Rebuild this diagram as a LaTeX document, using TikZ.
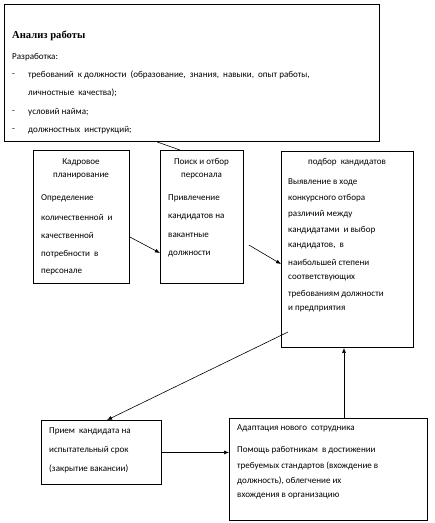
\documentclass[tikz,border=0pt]{standalone}
\usepackage{fontspec}
\setmainfont{Carlito}
\newfontfamily\titlefont{Liberation Serif}
\usetikzlibrary{arrows.meta,calc}
\begin{document}
\begin{tikzpicture}[x=1pt,y=-1pt,
  box/.style={draw,line width=0.9pt,anchor=north west,inner sep=0pt},
  txt/.style={anchor=west,inner sep=0pt,font=\fontsize{9.05}{10}\selectfont},
  ctxt/.style={anchor=center,inner sep=0pt,font=\fontsize{9.05}{10}\selectfont},
  arr/.style={line width=0.6pt,-{Latex[length=5pt,width=4pt]}},
  ln/.style={line width=0.6pt}]
\useasboundingbox (0,0) rectangle (435,523);
% top box
\node[box,minimum width=375pt,minimum height=137.5pt] (anal) at (4,3.5) {};
\node[anchor=west,inner sep=0pt,font=\titlefont\bfseries\fontsize{10.6}{12}\selectfont] (anal1) at (12,36) {Анализ работы};
\node[txt] (anal2) at (12,57) {Разработка:};
\node[txt] (d1) at (12,75) {-};
\node[txt] (anal3) at (28,75) {требований\ \ к должности\ \ (образование,\ \ знания,\ \ навыки,\ \ опыт работы,};
\node[txt] (anal4) at (28,93) {личностные\ \ качества);};
\node[txt] (d2) at (12,112) {-};
\node[txt] (anal5) at (28,112) {условий найма;};
\node[txt] (d3) at (12,130) {-};
\node[txt] (anal6) at (28,130) {должностных\ \ инструкций;};
% Kadrovoe
\node[box,minimum width=96pt,minimum height=133pt] (kadr) at (33,150) {};
\node[ctxt] (k1) at (81,162) {Кадровое};
\node[ctxt] (k2) at (81,176) {планирование};
\node[txt] (k3) at (41,198) {Определение};
\node[txt] (k4) at (41,217) {количественной\ \ и};
\node[txt] (k5) at (41,235) {качественной};
\node[txt] (k6) at (41,254) {потребности\ \ в};
\node[txt] (k7) at (41,272) {персонале};
% Poisk
\node[box,minimum width=83pt,minimum height=133pt] (poisk) at (160,150) {};
\node[ctxt] (p1) at (201.5,162) {Поиск и отбор};
\node[ctxt] (p2) at (201.5,176) {персонала};
\node[txt] (p3) at (168,198) {Привлечение};
\node[txt] (p4) at (168,217) {кандидатов на};
\node[txt] (p5) at (168,235) {вакантные};
\node[txt] (p6) at (168,254) {должности};
% podbor
\node[box,minimum width=132pt,minimum height=196pt] (podb) at (281,151) {};
\node[ctxt] (b0) at (347,162) {подбор\ \ кандидатов};
\node[txt] (b1) at (288,182) {Выявление в ходе};
\node[txt] (b2) at (288,198) {конкурсного отбора};
\node[txt] (b3) at (288,214) {различий между};
\node[txt] (b4) at (288,230) {кандидатами\ \ и выбор};
\node[txt] (b5) at (288,246) {кандидатов,\ \ в};
\node[txt] (b6) at (288,262) {наибольшей степени};
\node[txt] (b7) at (288,278) {соответствующих};
\node[txt] (b8) at (288,294) {требованиям должности};
\node[txt] (b9) at (288,309) {и предприятия};
% Priem
\node[box,minimum width=120pt,minimum height=64pt] (priem) at (41,420) {};
\node[txt] (r1) at (49,431) {Прием\ \ кандидата на};
\node[txt] (r2) at (49,450) {испытательный срок};
\node[txt] (r3) at (49,469) {(закрытие вакансии)};
% Adapt
\node[box,minimum width=198pt,minimum height=102pt] (adapt) at (229,418) {};
\node[txt] (a1) at (237,428) {Адаптация нового\ \ сотрудника};
\node[txt] (a2) at (237,450) {Помощь работникам\ \ в достижении};
\node[txt] (a3) at (237,466) {требуемых стандартов (вхождение в};
\node[txt] (a4) at (237,481) {должность), облегчение их};
\node[txt] (a5) at (237,496) {вхождения в организацию};
% connectors
\draw[ln] ($(anal.south west)+(153,0)$) -- ($(poisk.north west)+(20,0)$);
\draw[arr] ($(kadr.north east)+(0,87)$) -- ($(poisk.north west)+(0,103)$);
\draw[arr] ($(poisk.north east)+(5,95)$) -- ($(podb.north west)+(0,113)$);
\draw[arr] ($(podb.north west)+(7,181)$) -- ($(priem.north west)+(66,0)$);
\draw[arr] (priem.east) ++(0,0) coordinate (pe) -- (pe -| adapt.west);
\draw[arr] ($(adapt.north west)+(115,0)$) -- ($(podb.south west)+(63,0)$);
\end{tikzpicture}
\end{document}
